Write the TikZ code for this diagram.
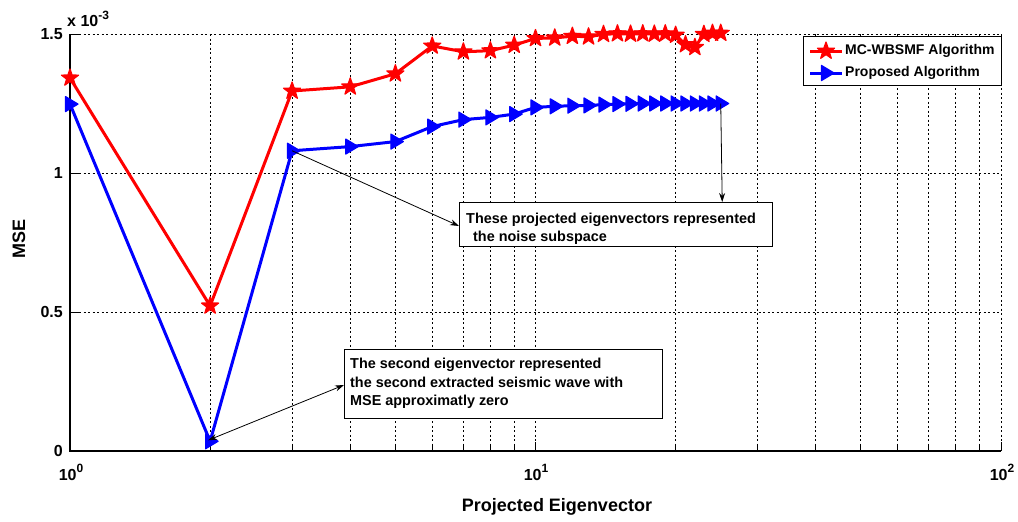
\documentclass[tikz,border=0pt]{standalone}
\usepackage{fontspec}
\setmainfont{Liberation Sans}
\usetikzlibrary{arrows.meta}
\tikzset{
  grid line/.style={black, line width=0.8pt, dash pattern=on 2pt off 2.5pt},
  axis line/.style={black, line width=1.2pt},
  redline/.style={red, line width=3pt, line join=round},
  blueline/.style={blue, line width=3pt, line join=round},
  redstar/.pic={\filldraw[red, line width=1.2pt, line join=round]
      (-90:9) -- (-54:3.6) -- (-18:9) -- (18:3.6) -- (54:9) -- (90:3.6)
      -- (126:9) -- (162:3.6) -- (198:9) -- (234:3.6) -- cycle;},
  bluetri/.pic={\filldraw[blue, line width=1.2pt, line join=round]
      (-4.5,-7.5) -- (8,0) -- (-4.5,7.5) -- cycle;},
  ticklab/.style={font=\fontsize{16}{16}\selectfont\bfseries, inner sep=0pt},
  axlab/.style={font=\fontsize{18}{18}\selectfont\bfseries, inner sep=0pt},
  legtext/.style={font=\fontsize{14}{14}\selectfont\bfseries, inner sep=0pt, anchor=west},
  notebox/.style={draw=black, line width=0.9pt, fill=white, inner sep=0pt},
  notetext/.style={font=\fontsize{14.4}{18}\selectfont\bfseries, inner sep=0pt, anchor=base west},
  pointer/.style={black, line width=0.8pt},
}
\begin{document}
\begin{tikzpicture}[x=1pt, y=-1pt]
\useasboundingbox (0,0) rectangle (1018,522);
% grid
\foreach \v in {2,3,4,5,6,7,8,9,10,20,30,40,50,60,70,80,90,100}
  \draw[grid line] ({70+465.5*log10(\v)},34) -- ({70+465.5*log10(\v)},451);
\foreach \m in {0.5,1,1.5}
  \draw[grid line] (70,{451-278*\m}) -- (1001,{451-278*\m});
% ticks
\foreach \v in {2,3,4,5,6,7,8,9,20,30,40,50,60,70,80,90}
  \draw[black, line width=0.8pt] ({70+465.5*log10(\v)},451) -- ({70+465.5*log10(\v)},446);
\foreach \v in {10,100}
  \draw[black, line width=0.8pt] ({70+465.5*log10(\v)},451) -- ({70+465.5*log10(\v)},442);
\foreach \m in {0.5,1,1.5}
  \draw[black, line width=0.8pt] (70,{451-278*\m}) -- (79,{451-278*\m});
% axes
\draw[axis line] (70,34) -- (70,451) -- (1001,451);
% tick labels
\node[ticklab, anchor=east] (y0) at (63,451) {0};
\node[ticklab, anchor=east] (y05) at (63,312) {0.5};
\node[ticklab, anchor=east] (y1) at (63,173) {1};
\node[ticklab, anchor=east] (y15) at (63,34) {1.5};
\node[ticklab, anchor=base west] (yexp) at (67,27) {x 10\raisebox{7pt}{\fontsize{12}{12}\selectfont -3}};
\node[ticklab, anchor=base] (x0) at (71,480) {10\raisebox{8pt}{\fontsize{12}{12}\selectfont 0}};
\node[ticklab, anchor=base] (x1) at (536,480) {10\raisebox{8pt}{\fontsize{12}{12}\selectfont 1}};
\node[ticklab, anchor=base] (x2) at (1002,480) {10\raisebox{8pt}{\fontsize{12}{12}\selectfont 2}};
% axis labels
\node[axlab] (xlab) at (557,507) {Projected Eigenvector};
\node[axlab, rotate=90] (ylab) at (19,239) {MSE};
% data
\foreach \x/\y [count=\i] in {1/1.342,2/0.522,3/1.295,4/1.310,5/1.357,6/1.457,7/1.436,8/1.440,9/1.460,10/1.484,11/1.486,12/1.492,13/1.490,14/1.499,15/1.501,16/1.500,17/1.501,18/1.500,19/1.501,20/1.496,21/1.462,22/1.452,23/1.499,24/1.503,25/1.503}
  \coordinate (r\i) at ({70+465.5*log10(\x)},{451-278*\y});
\foreach \x/\y [count=\i] in {1/1.248,2/0.035,3/1.080,4/1.095,5/1.113,6/1.167,7/1.192,8/1.200,9/1.212,10/1.236,11/1.240,12/1.242,13/1.243,14/1.246,15/1.248,16/1.249,17/1.250,18/1.250,19/1.250,20/1.250,21/1.250,22/1.250,23/1.250,24/1.250,25/1.250}
  \coordinate (b\i) at ({70+465.5*log10(\x)},{451-278*\y});
\draw[redline] (r1) \foreach \i in {2,...,25} { -- (r\i)};
\draw[blueline] (b1) \foreach \i in {2,...,25} { -- (b\i)};
\foreach \i in {1,...,25} \pic at (r\i) {redstar};
\foreach \i in {1,...,25} \pic at (b\i) {bluetri};
% annotation boxes
\node[notebox, minimum width=313pt, minimum height=44pt, anchor=north west] (note1) at (459,202) {};
\node[notetext] (note1a) at (466,223) {These projected eigenvectors represented};
\node[notetext] (note1b) at (473,241) {the noise subspace};
\node[notebox, minimum width=318pt, minimum height=69pt, anchor=north west] (note2) at (344,349) {};
\node[notetext] (note2a) at (350,368) {The second eigenvector represented};
\node[notetext] (note2b) at (350,387) {the second extracted seismic wave with};
\node[notetext] (note2c) at (350,405) {MSE approximatly zero};
% pointers
\draw[pointer, -{Stealth[length=9pt, width=6pt]}] (b3) -- (note1.west |- 0,226);
\draw[pointer, -{Stealth[length=9pt, width=6pt]}] (b25) -- ([xshift=1.5pt]b25 |- note1.north);
\draw[pointer, {Stealth[length=9pt, width=6pt]}-{Stealth[length=9pt, width=6pt]}] ([shift={(-2,-1)}]b2) -- (note2.west |- 0,385);
% legend
\node[draw=black, line width=1.3pt, fill=white, minimum width=198pt, minimum height=49pt, anchor=north west, inner sep=0pt] (legend) at (803,36) {};
\coordinate (lr1) at (810,51);
\coordinate (lr2) at (842,51);
\coordinate (lb1) at (810,73);
\coordinate (lb2) at (842,73);
\draw[redline] (lr1) -- (lr2);
\draw[blueline] (lb1) -- (lb2);
\pic at (826,51) {redstar};
\pic at (826,73) {bluetri};
\node[legtext] (leg1) at (845,51) {MC-WBSMF Algorithm};
\node[legtext] (leg2) at (845,73) {Proposed Algorithm};
\end{tikzpicture}
\end{document}
